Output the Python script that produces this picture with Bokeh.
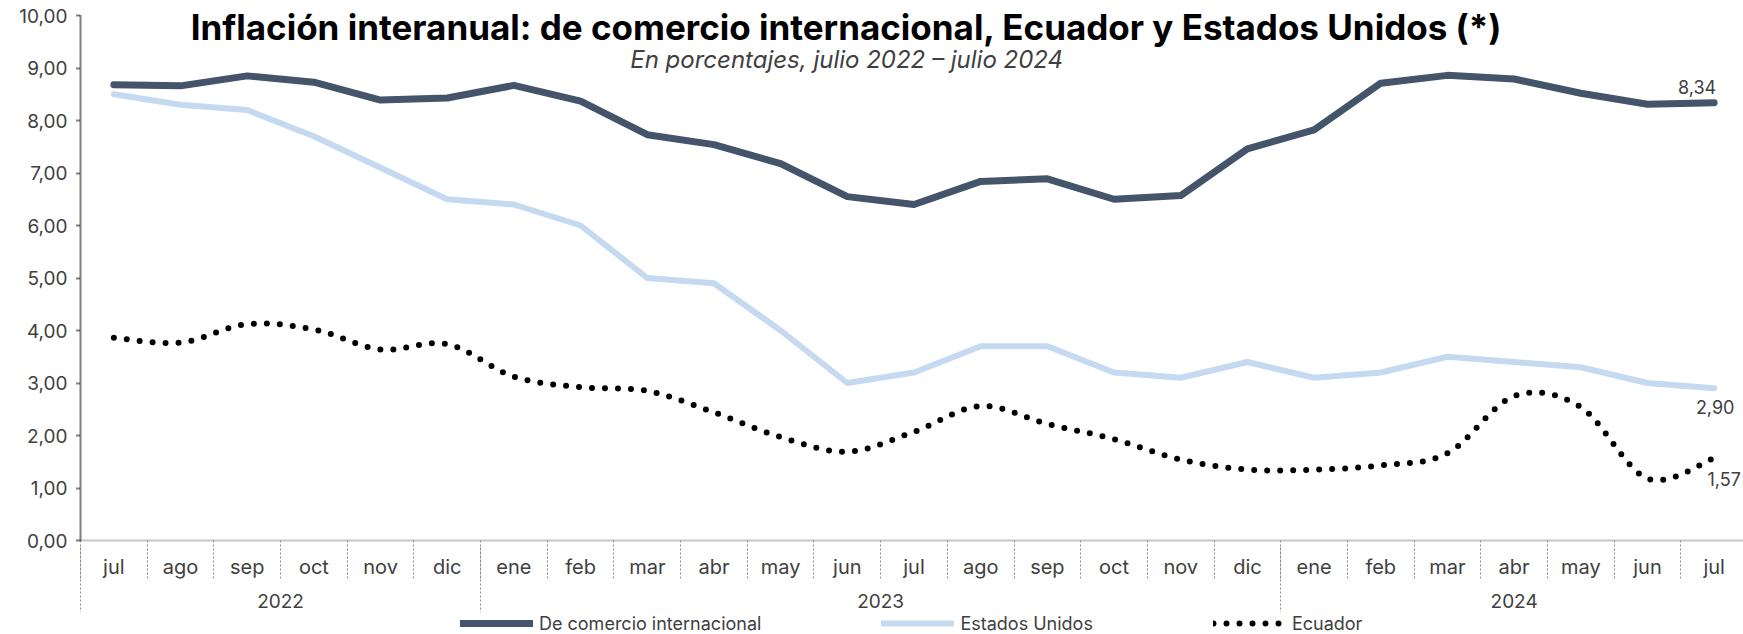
from bokeh.plotting import figure
from bokeh.layouts import column
from bokeh.models import (Range1d, FixedTicker, LinearAxis, Label, Legend, LegendItem,
                          CustomJSTickFormatter)
from bokeh.embed import file_html
from bokeh.resources import INLINE

# ---------------- data ----------------
months = ["jul", "ago", "sep", "oct", "nov", "dic",
          "ene", "feb", "mar", "abr", "may", "jun", "jul", "ago", "sep", "oct", "nov", "dic",
          "ene", "feb", "mar", "abr", "may", "jun", "jul"]
years = ["2022", "2023", "2024"]
year_counts = [6, 12, 7]

comercio = [8.68, 8.66, 8.85, 8.73, 8.39, 8.43, 8.67, 8.37, 7.73, 7.54, 7.18, 6.55, 6.40,
            6.84, 6.89, 6.50, 6.57, 7.46, 7.82, 8.71, 8.86, 8.79, 8.52, 8.31, 8.34]
eeuu = [8.5, 8.3, 8.2, 7.7, 7.1, 6.5, 6.4, 6.0, 5.0, 4.9, 4.0, 3.0, 3.2,
        3.7, 3.7, 3.2, 3.1, 3.4, 3.1, 3.2, 3.5, 3.4, 3.3, 3.0, 2.9]
ecuador = [3.86, 3.77, 4.12, 4.02, 3.64, 3.74, 3.12, 2.92, 2.85, 2.44, 1.97, 1.69, 2.07,
           2.56, 2.22, 1.93, 1.54, 1.35, 1.35, 1.43, 1.66, 2.75, 2.54, 1.18, 1.57]
y_ticks = [0, 1, 2, 3, 4, 5, 6, 7, 8, 9, 10]
series_names = ["De comercio internacional", "Estados Unidos", "Ecuador"]

title_text = "Inflación interanual: de comercio internacional, Ecuador y Estados Unidos (*)"
subtitle_text = "En porcentajes, julio 2022 – julio 2024"

FONT = "Inter"
DARK = "#44546A"
LIGHT = "#C5D9F0"
TXT = "#404040"
SEP = "#8C8C8C"

n = len(months)
xs = [i + 0.5 for i in range(n)]


def fmt(v):
    return f"{v:.2f}".replace(".", ",")


# smooth (Catmull-Rom) rendering of the Ecuador series, as in the original chart
def smooth(xv, yv, steps=24):
    px = [xv[0]] + list(xv) + [xv[-1]]
    py = [yv[0]] + list(yv) + [yv[-1]]
    ox, oy = [], []
    for i in range(1, len(px) - 2):
        for s in range(steps):
            t = s / steps
            t2, t3 = t * t, t * t * t

            def cr(p0, p1, p2, p3):
                return 0.5 * ((2 * p1) + (-p0 + p2) * t + (2 * p0 - 5 * p1 + 4 * p2 - p3) * t2
                              + (-p0 + 3 * p1 - 3 * p2 + p3) * t3)
            ox.append(cr(px[i - 1], px[i], px[i + 1], px[i + 2]))
            oy.append(cr(py[i - 1], py[i], py[i + 1], py[i + 2]))
    ox.append(xv[-1])
    oy.append(yv[-1])
    return ox, oy


styles = [dict(line_color=DARK, line_width=7, line_join="round", line_cap="round"),
          dict(line_color=LIGHT, line_width=6, line_join="round", line_cap="round"),
          dict(line_color="black", line_width=6, line_cap="round", line_dash="0 13")]

# the value axis stops at 10; a little room above it holds the title.
# the last month cell is slightly cut by the right edge in the original
p = figure(width=1743, height=612, x_range=Range1d(0, n - 0.06), y_range=Range1d(0, 10.286),
           output_backend="svg", toolbar_location=None,
           x_axis_location=None, y_axis_location=None,
           min_border_left=80, min_border_right=0, min_border_top=0, min_border_bottom=72)
p.outline_line_color = None
p.xgrid.visible = False
p.ygrid.visible = False
p.background_fill_color = "white"
p.border_fill_color = "white"

# y axis
yax = LinearAxis(ticker=FixedTicker(ticks=y_ticks), bounds=(0, 10),
                 major_label_overrides={t: fmt(t) for t in y_ticks})
yax.axis_line_color = "black"
yax.axis_line_dash = "1 1"
yax.axis_line_width = 2
yax.major_tick_out = 4
yax.major_tick_in = 0
yax.major_tick_line_color = "black"
yax.major_tick_line_dash = "1 1"
yax.major_tick_line_width = 2
yax.minor_tick_out = 0
yax.major_label_standoff = 9
yax.major_label_text_font = FONT
yax.major_label_text_font_size = "19px"
yax.major_label_text_color = TXT
p.add_layout(yax, "left")

# x axis: months (separators as minor ticks at month boundaries)
xa = LinearAxis(ticker=FixedTicker(ticks=xs, minor_ticks=list(range(0, n))),
                formatter=CustomJSTickFormatter(args=dict(labels=months),
                                                code="return labels[Math.floor(tick)] || ''"))
xa.axis_line_color = SEP
xa.axis_line_dash = "1 1"
xa.axis_line_width = 2
xa.major_tick_out = 0
xa.major_tick_in = 0
xa.minor_tick_out = 38
xa.minor_tick_in = 0
xa.minor_tick_line_color = SEP
xa.minor_tick_line_dash = "2 2"
xa.major_label_standoff = -24
xa.major_label_text_font = FONT
xa.major_label_text_font_size = "20px"
xa.major_label_text_color = TXT
p.add_layout(xa, "below")

# x axis: years (long separators at year starts)
starts, centers = [], []
acc = 0
for c in year_counts:
    starts.append(acc)
    centers.append(acc + c / 2)
    acc += c
ya2 = LinearAxis(ticker=FixedTicker(ticks=centers, minor_ticks=starts),
                 major_label_overrides={c: y for c, y in zip(centers, years)})
ya2.axis_line_color = None
ya2.major_tick_out = 0
ya2.major_tick_in = 0
ya2.minor_tick_in = 35
ya2.minor_tick_out = 36
ya2.minor_tick_line_color = SEP
ya2.minor_tick_line_dash = "2 2"
ya2.major_label_standoff = -24
ya2.major_label_text_font = FONT
ya2.major_label_text_font_size = "19px"
ya2.major_label_text_color = TXT
p.add_layout(ya2, "below")

# series
r1 = p.line(xs, comercio, **styles[0])
r2 = p.line(xs, eeuu, **styles[1])
ex, ey = smooth(xs, ecuador)
r3 = p.line(ex, ey, **styles[2])
p.renderers = [r2, r1, r3]

# end value labels
p.add_layout(Label(x=xs[-1], y=comercio[-1], text=fmt(comercio[-1]), text_align="center",
                   text_baseline="middle", y_offset=16, x_offset=-17, text_font=FONT,
                   text_font_size="18px", text_color=TXT))
p.add_layout(Label(x=xs[-1], y=eeuu[-1], text=fmt(eeuu[-1]), text_align="center",
                   text_baseline="middle", y_offset=-19, x_offset=1, text_font=FONT,
                   text_font_size="18px", text_color=TXT))
p.add_layout(Label(x=xs[-1], y=ecuador[-1], text=fmt(ecuador[-1]), text_align="center",
                   text_baseline="middle", y_offset=-21, x_offset=10, text_font=FONT,
                   text_font_size="18px", text_color=TXT))

# title & subtitle
p.add_layout(Label(x=11.49, y=9.78, text=title_text, text_align="center", text_baseline="middle",
                   text_font=FONT, text_font_size="35px", text_font_style="bold",
                   text_color="black"))
p.add_layout(Label(x=11.49, y=9.16, text=subtitle_text, text_align="center",
                   text_baseline="middle", text_font=FONT, text_font_size="24px",
                   text_font_style="italic", text_color=TXT))

# legend strip below the chart (its lines fall outside its range; only the key shows)
lf = figure(width=1743, height=22, x_range=Range1d(0, n), y_range=Range1d(-1, 0),
            output_backend="svg", toolbar_location=None,
            x_axis_location=None, y_axis_location=None,
            min_border_left=80, min_border_right=0, min_border_top=0, min_border_bottom=0)
lf.outline_line_color = None
lf.xgrid.visible = False
lf.ygrid.visible = False
lr = [lf.line(xs, vals, **st) for vals, st in zip([comercio, eeuu, ecuador], styles)]
legend = Legend(items=[LegendItem(label=nm, renderers=[r]) for nm, r in zip(series_names, lr)],
                orientation="horizontal", location=(380, 0))
legend.border_line_color = None
legend.background_fill_alpha = 0
legend.glyph_width = 73
legend.glyph_height = 22
legend.label_standoff = 6
legend.spacing = 120
legend.padding = 0
legend.margin = 0
legend.label_height = 22
legend.label_text_font = FONT
legend.label_text_font_size = "18px"
legend.label_text_color = TXT
lf.add_layout(legend, "center")

layout = column(p, lf, spacing=0)
open("out.html", "w").write(file_html(layout, INLINE))
